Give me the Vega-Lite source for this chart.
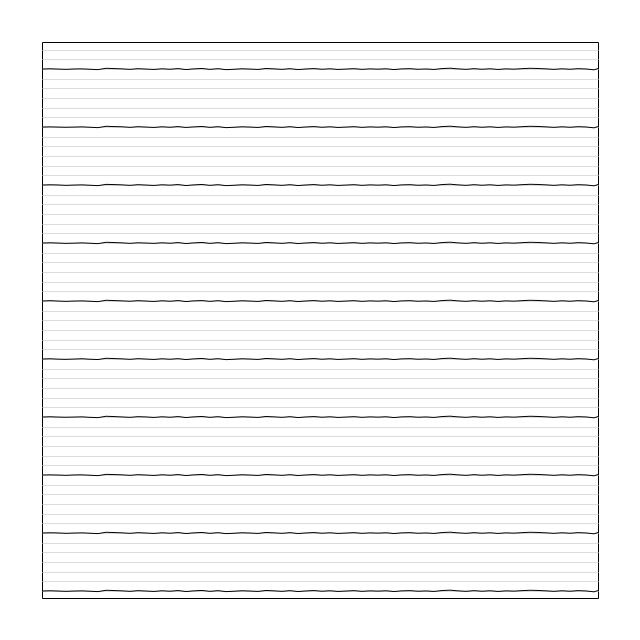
{
  "$schema": "https://vega.github.io/schema/vega-lite/v6.json",
  "width": 556,
  "height": 556,
  "autosize": "none",
  "padding": {"left": 42, "top": 42, "right": 42, "bottom": 42},
  "background": "white",
  "config": {"view": {"stroke": "black", "strokeWidth": 1}},
  "data": {"values": [
    {"x":0,"r0":0,"r1":6,"r2":12,"r3":18,"r4":24,"r5":30,"r6":36,"r7":42,"r8":48,"r9":54},
    {"x":8,"r0":0.03,"r1":6.03,"r2":12.02,"r3":18.03,"r4":24.03,"r5":30.04,"r6":36.03,"r7":42.03,"r8":48.02,"r9":54.03},
    {"x":16,"r0":0,"r1":6.01,"r2":12,"r3":18,"r4":23.99,"r5":30,"r6":36,"r7":42.01,"r8":48,"r9":54},
    {"x":24,"r0":-0.03,"r1":5.97,"r2":11.97,"r3":17.98,"r4":23.97,"r5":29.97,"r6":35.97,"r7":41.97,"r8":47.98,"r9":53.97},
    {"x":32,"r0":0,"r1":6,"r2":12.01,"r3":18,"r4":24,"r5":30,"r6":35.99,"r7":42,"r8":48,"r9":54.01},
    {"x":40,"r0":0.02,"r1":6.02,"r2":12.02,"r3":18.02,"r4":24.03,"r5":30.02,"r6":36.02,"r7":42.02,"r8":48.02,"r9":54.02},
    {"x":48,"r0":-0.02,"r1":5.98,"r2":11.98,"r3":17.97,"r4":23.98,"r5":29.98,"r6":35.98,"r7":41.98,"r8":47.98,"r9":53.98},
    {"x":56,"r0":-0.06,"r1":5.94,"r2":11.94,"r3":17.94,"r4":23.95,"r5":29.94,"r6":35.94,"r7":41.94,"r8":47.94,"r9":53.94},
    {"x":64,"r0":0.08,"r1":6.08,"r2":12.07,"r3":18.08,"r4":24.08,"r5":30.08,"r6":36.08,"r7":42.07,"r8":48.08,"r9":54.08},
    {"x":72,"r0":0.05,"r1":6.05,"r2":12.05,"r3":18.05,"r4":24.05,"r5":30.05,"r6":36.05,"r7":42.05,"r8":48.05,"r9":54.05},
    {"x":80,"r0":0.02,"r1":6.02,"r2":12.02,"r3":18.01,"r4":24.02,"r5":30.02,"r6":36.02,"r7":42.02,"r8":48.03,"r9":54.02},
    {"x":88,"r0":-0.03,"r1":5.97,"r2":11.97,"r3":17.97,"r4":23.97,"r5":29.98,"r6":35.97,"r7":41.97,"r8":47.97,"r9":53.97},
    {"x":96,"r0":0.04,"r1":6.04,"r2":12.04,"r3":18.04,"r4":24.04,"r5":30.04,"r6":36.03,"r7":42.04,"r8":48.04,"r9":54.04},
    {"x":104,"r0":0,"r1":6,"r2":12,"r3":18.01,"r4":24,"r5":30,"r6":36,"r7":42,"r8":48,"r9":54},
    {"x":112,"r0":-0.04,"r1":5.96,"r2":11.96,"r3":17.96,"r4":23.96,"r5":29.96,"r6":35.97,"r7":41.96,"r8":47.96,"r9":53.96},
    {"x":120,"r0":0.03,"r1":6.03,"r2":12.03,"r3":18.03,"r4":24.03,"r5":30.03,"r6":36.03,"r7":42.03,"r8":48.03,"r9":54.03},
    {"x":128,"r0":-0.02,"r1":5.98,"r2":11.98,"r3":17.98,"r4":23.98,"r5":29.98,"r6":35.98,"r7":41.99,"r8":47.98,"r9":53.98},
    {"x":136,"r0":0.05,"r1":6.05,"r2":12.05,"r3":18.05,"r4":24.04,"r5":30.05,"r6":36.05,"r7":42.05,"r8":48.05,"r9":54.05},
    {"x":144,"r0":-0.05,"r1":5.95,"r2":11.95,"r3":17.95,"r4":23.95,"r5":29.95,"r6":35.95,"r7":41.95,"r8":47.96,"r9":53.95},
    {"x":152,"r0":0.02,"r1":6.02,"r2":12.02,"r3":18.02,"r4":24.02,"r5":30.02,"r6":36.02,"r7":42.02,"r8":48.02,"r9":54.02},
    {"x":160,"r0":0.06,"r1":6.06,"r2":12.06,"r3":18.06,"r4":24.06,"r5":30.05,"r6":36.06,"r7":42.06,"r8":48.06,"r9":54.06},
    {"x":168,"r0":-0.03,"r1":5.97,"r2":11.97,"r3":17.97,"r4":23.97,"r5":29.97,"r6":35.97,"r7":41.97,"r8":47.97,"r9":53.97},
    {"x":176,"r0":0.04,"r1":6.04,"r2":12.04,"r3":18.04,"r4":24.04,"r5":30.04,"r6":36.04,"r7":42.04,"r8":48.04,"r9":54.04},
    {"x":184,"r0":-0.06,"r1":5.94,"r2":11.94,"r3":17.94,"r4":23.94,"r5":29.94,"r6":35.94,"r7":41.94,"r8":47.94,"r9":53.94},
    {"x":192,"r0":-0.02,"r1":5.98,"r2":11.98,"r3":17.98,"r4":23.98,"r5":29.98,"r6":35.98,"r7":41.98,"r8":47.98,"r9":53.98},
    {"x":200,"r0":0.03,"r1":6.03,"r2":12.03,"r3":18.03,"r4":24.03,"r5":30.03,"r6":36.03,"r7":42.03,"r8":48.03,"r9":54.03},
    {"x":208,"r0":0,"r1":6,"r2":12,"r3":18,"r4":24,"r5":30,"r6":36,"r7":42,"r8":48,"r9":54},
    {"x":216,"r0":-0.04,"r1":5.96,"r2":11.96,"r3":17.96,"r4":23.96,"r5":29.96,"r6":35.96,"r7":41.96,"r8":47.96,"r9":53.96},
    {"x":224,"r0":0.06,"r1":6.06,"r2":12.06,"r3":18.06,"r4":24.06,"r5":30.06,"r6":36.06,"r7":42.06,"r8":48.06,"r9":54.06},
    {"x":232,"r0":0.02,"r1":6.02,"r2":12.02,"r3":18.02,"r4":24.02,"r5":30.02,"r6":36.02,"r7":42.02,"r8":48.02,"r9":54.02},
    {"x":240,"r0":-0.03,"r1":5.97,"r2":11.97,"r3":17.97,"r4":23.97,"r5":29.97,"r6":35.97,"r7":41.97,"r8":47.97,"r9":53.97},
    {"x":248,"r0":0.04,"r1":6.04,"r2":12.04,"r3":18.04,"r4":24.04,"r5":30.04,"r6":36.04,"r7":42.04,"r8":48.04,"r9":54.04},
    {"x":256,"r0":-0.05,"r1":5.95,"r2":11.95,"r3":17.95,"r4":23.95,"r5":29.95,"r6":35.95,"r7":41.95,"r8":47.95,"r9":53.95},
    {"x":264,"r0":0.01,"r1":6.01,"r2":12.01,"r3":18.01,"r4":24.01,"r5":30.01,"r6":36.01,"r7":42.01,"r8":48.01,"r9":54.01},
    {"x":272,"r0":0.05,"r1":6.05,"r2":12.05,"r3":18.05,"r4":24.05,"r5":30.05,"r6":36.05,"r7":42.05,"r8":48.05,"r9":54.05},
    {"x":280,"r0":-0.02,"r1":5.98,"r2":11.98,"r3":17.98,"r4":23.98,"r5":29.98,"r6":35.98,"r7":41.98,"r8":47.98,"r9":53.98},
    {"x":288,"r0":0.03,"r1":6.03,"r2":12.03,"r3":18.03,"r4":24.03,"r5":30.03,"r6":36.03,"r7":42.03,"r8":48.03,"r9":54.03},
    {"x":296,"r0":-0.04,"r1":5.96,"r2":11.96,"r3":17.96,"r4":23.96,"r5":29.96,"r6":35.96,"r7":41.96,"r8":47.96,"r9":53.96},
    {"x":304,"r0":0,"r1":6,"r2":12,"r3":18,"r4":24,"r5":30,"r6":36,"r7":42,"r8":48,"r9":54},
    {"x":312,"r0":0.04,"r1":6.04,"r2":12.04,"r3":18.04,"r4":24.04,"r5":30.04,"r6":36.04,"r7":42.04,"r8":48.04,"r9":54.04},
    {"x":320,"r0":-0.03,"r1":5.97,"r2":11.97,"r3":17.97,"r4":23.97,"r5":29.97,"r6":35.97,"r7":41.97,"r8":47.97,"r9":53.97},
    {"x":328,"r0":0.02,"r1":6.02,"r2":12.02,"r3":18.02,"r4":24.02,"r5":30.02,"r6":36.02,"r7":42.02,"r8":48.02,"r9":54.02},
    {"x":336,"r0":-0.01,"r1":5.99,"r2":11.99,"r3":17.99,"r4":23.99,"r5":29.99,"r6":35.99,"r7":41.99,"r8":47.99,"r9":53.99},
    {"x":344,"r0":0.03,"r1":6.03,"r2":12.03,"r3":18.03,"r4":24.03,"r5":30.03,"r6":36.03,"r7":42.03,"r8":48.03,"r9":54.03},
    {"x":352,"r0":-0.05,"r1":5.95,"r2":11.95,"r3":17.95,"r4":23.95,"r5":29.95,"r6":35.95,"r7":41.95,"r8":47.95,"r9":53.95},
    {"x":360,"r0":0.02,"r1":6.02,"r2":12.02,"r3":18.02,"r4":24.02,"r5":30.02,"r6":36.02,"r7":42.02,"r8":48.02,"r9":54.02},
    {"x":368,"r0":0.04,"r1":6.04,"r2":12.04,"r3":18.04,"r4":24.04,"r5":30.04,"r6":36.04,"r7":42.04,"r8":48.04,"r9":54.04},
    {"x":376,"r0":-0.02,"r1":5.98,"r2":11.98,"r3":17.98,"r4":23.98,"r5":29.98,"r6":35.98,"r7":41.98,"r8":47.98,"r9":53.98},
    {"x":384,"r0":0.01,"r1":6.01,"r2":12.01,"r3":18.01,"r4":24.01,"r5":30.01,"r6":36.01,"r7":42.01,"r8":48.01,"r9":54.01},
    {"x":392,"r0":-0.04,"r1":5.96,"r2":11.96,"r3":17.96,"r4":23.96,"r5":29.96,"r6":35.96,"r7":41.96,"r8":47.96,"r9":53.96},
    {"x":400,"r0":0.05,"r1":6.05,"r2":12.05,"r3":18.05,"r4":24.05,"r5":30.05,"r6":36.05,"r7":42.05,"r8":48.05,"r9":54.05},
    {"x":408,"r0":0.09,"r1":6.09,"r2":12.09,"r3":18.09,"r4":24.09,"r5":30.09,"r6":36.09,"r7":42.09,"r8":48.09,"r9":54.09},
    {"x":416,"r0":0.02,"r1":6.02,"r2":12.02,"r3":18.02,"r4":24.02,"r5":30.02,"r6":36.02,"r7":42.02,"r8":48.02,"r9":54.02},
    {"x":424,"r0":-0.03,"r1":5.97,"r2":11.97,"r3":17.97,"r4":23.97,"r5":29.97,"r6":35.97,"r7":41.97,"r8":47.97,"r9":53.97},
    {"x":432,"r0":0.04,"r1":6.04,"r2":12.04,"r3":18.04,"r4":24.04,"r5":30.04,"r6":36.04,"r7":42.04,"r8":48.04,"r9":54.04},
    {"x":440,"r0":-0.02,"r1":5.98,"r2":11.98,"r3":17.98,"r4":23.98,"r5":29.98,"r6":35.98,"r7":41.98,"r8":47.98,"r9":53.98},
    {"x":448,"r0":0.03,"r1":6.03,"r2":12.03,"r3":18.03,"r4":24.03,"r5":30.03,"r6":36.03,"r7":42.03,"r8":48.03,"r9":54.03},
    {"x":456,"r0":-0.04,"r1":5.96,"r2":11.96,"r3":17.96,"r4":23.96,"r5":29.96,"r6":35.96,"r7":41.96,"r8":47.96,"r9":53.96},
    {"x":464,"r0":0.02,"r1":6.02,"r2":12.02,"r3":18.02,"r4":24.02,"r5":30.02,"r6":36.02,"r7":42.02,"r8":48.02,"r9":54.02},
    {"x":472,"r0":-0.01,"r1":5.99,"r2":11.99,"r3":17.99,"r4":23.99,"r5":29.99,"r6":35.99,"r7":41.99,"r8":47.99,"r9":53.99},
    {"x":480,"r0":0.04,"r1":6.04,"r2":12.04,"r3":18.04,"r4":24.04,"r5":30.04,"r6":36.04,"r7":42.04,"r8":48.04,"r9":54.04},
    {"x":488,"r0":0.08,"r1":6.08,"r2":12.08,"r3":18.08,"r4":24.08,"r5":30.08,"r6":36.08,"r7":42.08,"r8":48.08,"r9":54.08},
    {"x":496,"r0":0.06,"r1":6.06,"r2":12.06,"r3":18.06,"r4":24.06,"r5":30.06,"r6":36.06,"r7":42.06,"r8":48.06,"r9":54.06},
    {"x":504,"r0":0.02,"r1":6.02,"r2":12.02,"r3":18.02,"r4":24.02,"r5":30.02,"r6":36.02,"r7":42.02,"r8":48.02,"r9":54.02},
    {"x":512,"r0":-0.03,"r1":5.97,"r2":11.97,"r3":17.97,"r4":23.97,"r5":29.97,"r6":35.97,"r7":41.97,"r8":47.97,"r9":53.97},
    {"x":520,"r0":0.03,"r1":6.03,"r2":12.03,"r3":18.03,"r4":24.03,"r5":30.03,"r6":36.03,"r7":42.03,"r8":48.03,"r9":54.03},
    {"x":528,"r0":-0.02,"r1":5.98,"r2":11.98,"r3":17.98,"r4":23.98,"r5":29.98,"r6":35.98,"r7":41.98,"r8":47.98,"r9":53.98},
    {"x":536,"r0":0.04,"r1":6.04,"r2":12.04,"r3":18.04,"r4":24.04,"r5":30.04,"r6":36.04,"r7":42.04,"r8":48.04,"r9":54.04},
    {"x":544,"r0":0.01,"r1":6.01,"r2":12.01,"r3":18.01,"r4":24.01,"r5":30.01,"r6":36.01,"r7":42.01,"r8":48.01,"r9":54.01},
    {"x":552,"r0":-0.08,"r1":5.92,"r2":11.92,"r3":17.92,"r4":23.92,"r5":29.92,"r6":35.92,"r7":41.92,"r8":47.92,"r9":53.92},
    {"x":556,"r0":0.05,"r1":6.05,"r2":12.05,"r3":18.05,"r4":24.05,"r5":30.05,"r6":36.05,"r7":42.05,"r8":48.05,"r9":54.05}
  ]},
  "transform": [{"fold": ["r0","r1","r2","r3","r4","r5","r6","r7","r8","r9"], "as": ["trace","v"]}],
  "mark": {"type": "line", "color": "black", "strokeWidth": 1},
  "encoding": {
    "x": {"field": "x", "type": "quantitative", "scale": {"domain": [0, 556], "nice": false, "zero": false}, "axis": null},
    "y": {"field": "v", "type": "quantitative",
      "scale": {"domain": [-0.72, 56.8], "nice": false, "zero": false},
      "axis": {"values": [0,1,2,3,4,5,6,7,8,9,10,11,12,13,14,15,16,17,18,19,20,21,22,23,24,25,26,27,28,29,30,31,32,33,34,35,36,37,38,39,40,41,42,43,44,45,46,47,48,49,50,51,52,53,54,55,56],
        "grid": true, "gridColor": "#dcdcdc", "gridWidth": 1, "labels": false, "ticks": false, "domain": false, "title": null}},
    "detail": {"field": "trace", "type": "nominal"}
  }
}
